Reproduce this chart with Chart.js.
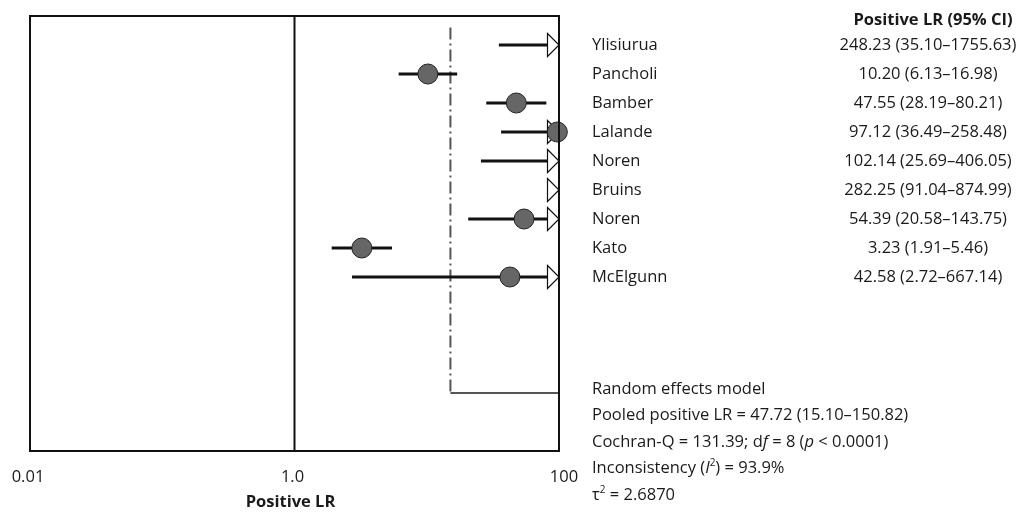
<!DOCTYPE html>
<html lang="en">
<head>
    <meta charset="UTF-8">
    <title>Positive LR forest plot</title>
    <script src="https://cdn.jsdelivr.net/npm/chart.js"></script>
    <style>
        body {
            margin: 0;
            padding: 0;
            background: #ffffff;
        }
        .chart-wrapper {
            position: relative;
            width: 1033px;
            height: 512px;
        }
    </style>
</head>
<body>
    <div class="chart-wrapper">
        <canvas id="forestChart"></canvas>
    </div>
    <script>
        // study data
        var studies = ['Ylisiurua', 'Pancholi', 'Bamber', 'Lalande', 'Noren', 'Bruins', 'Noren', 'Kato', 'McElgunn'];
        var posLR = [248.23, 10.20, 47.55, 97.12, 102.14, 282.25, 54.39, 3.23, 42.58];
        var ciLow = [35.10, 6.13, 28.19, 36.49, 25.69, 91.04, 20.58, 1.91, 2.72];
        var ciHigh = [1755.63, 16.98, 80.21, 258.48, 406.05, 874.99, 143.75, 5.46, 667.14];

        // axis
        var xTickValues = [0.01, 1, 100];
        var xTickLabels = ['0.01', '1.0', '100'];
        var xMin = 0.01, xMax = 100;
        var nullLine = 1;

        // pooled result
        var pooledLR = 47.72, pooledLow = 15.10, pooledHigh = 150.82;
        var pooledRow = 12;
        var statLines = [
            [{ t: 'Random effects model' }],
            [{ t: 'Pooled positive LR = 47.72 (15.10\u2013150.82)' }],
            [{ t: 'Cochran-Q = 131.39; d' }, { t: 'f', i: true }, { t: ' = 8 (' }, { t: 'p', i: true }, { t: ' < 0.0001)' }],
            [{ t: 'Inconsistency (' }, { t: 'I', i: true }, { t: '2', sup: true }, { t: ') = 93.9%' }],
            [{ t: '\u03c4' }, { t: '2', sup: true }, { t: ' = 2.6870' }]
        ];

        var FONT = '"Open Sans", "DejaVu Sans", sans-serif';
        var FS = 16.5;
        var topRow = -1, bottomRow = 14;

        function makeArrow() {
            var c = document.createElement('canvas');
            c.width = 26; c.height = 26;
            var g = c.getContext('2d');
            g.fillStyle = '#ffffff';
            g.strokeStyle = '#111111';
            g.lineWidth = 1.2;
            g.beginPath();
            g.moveTo(1.5, 1.5);
            g.lineTo(13, 13);
            g.lineTo(1.5, 24.5);
            g.closePath();
            g.fill();
            g.stroke();
            return c;
        }

        var datasets = [];

        // point estimates (only those inside the axis range)
        datasets.push({
            type: 'scatter',
            data: posLR.map(function (v, i) { return { x: v, y: i }; }).filter(function (p) { return p.x <= xMax; }),
            pointRadius: 10,
            pointHoverRadius: 10,
            backgroundColor: '#666666',
            borderColor: '#222222',
            borderWidth: 1,
            clip: false,
            order: 0
        });

        // arrows for CIs running past the axis
        var arrow = makeArrow();
        datasets.push({
            type: 'scatter',
            data: ciHigh.map(function (v, i) { return { x: xMax, y: i, hi: v }; }).filter(function (p) { return p.hi > xMax; }),
            pointStyle: arrow,
            pointRadius: 12,
            clip: false,
            order: 1
        });

        // confidence intervals
        studies.forEach(function (s, i) {
            datasets.push({
                type: 'line',
                data: [{ x: ciLow[i], y: i }, { x: Math.min(ciHigh[i], xMax), y: i }],
                borderColor: '#111111',
                borderWidth: 3,
                pointRadius: 0,
                order: 2
            });
        });

        // line of no effect
        datasets.push({
            type: 'line',
            data: [{ x: nullLine, y: topRow }, { x: nullLine, y: bottomRow }],
            borderColor: '#111111',
            borderWidth: 2,
            pointRadius: 0,
            order: 3
        });

        // pooled marker lines
        datasets.push({
            type: 'line',
            data: [{ x: pooledLow, y: topRow + 0.4 }, { x: pooledLow, y: pooledRow }],
            borderColor: '#555555',
            borderWidth: 2,
            borderDash: [12, 4, 2, 4],
            pointRadius: 0,
            order: 3
        });
        datasets.push({
            type: 'line',
            data: [{ x: pooledLow, y: pooledRow }, { x: xMax, y: pooledRow }],
            borderColor: '#555555',
            borderWidth: 2,
            pointRadius: 0,
            order: 3
        });

        function drawRich(ctx, segs, x, y, size) {
            segs.forEach(function (s) {
                var fs = s.sup ? Math.round(size * 0.6) : size;
                ctx.font = (s.i ? 'italic ' : '') + fs + 'px ' + FONT;
                ctx.fillText(s.t, x, s.sup ? y - size * 0.32 : y);
                x += ctx.measureText(s.t).width;
            });
        }

        var textPlugin = {
            id: 'forestText',
            afterDraw: function (chart) {
                var ctx = chart.ctx;
                var area = chart.chartArea;
                var xs = chart.scales.x, ys = chart.scales.y;
                ctx.save();
                // plot frame
                ctx.strokeStyle = '#111111';
                ctx.lineWidth = 2;
                ctx.strokeRect(area.left, area.top, area.right - area.left, area.bottom - area.top);

                ctx.fillStyle = '#1a1a1a';
                ctx.textBaseline = 'middle';

                // column header
                ctx.font = 'bold ' + FS + 'px ' + FONT;
                ctx.textAlign = 'center';
                ctx.fillText('Positive LR (95% CI)', 933, 20);

                // study rows
                studies.forEach(function (s, i) {
                    var y = ys.getPixelForValue(i);
                    ctx.font = FS + 'px ' + FONT;
                    ctx.textAlign = 'left';
                    ctx.fillText(s, 592, y);
                    ctx.textAlign = 'center';
                    ctx.fillText(posLR[i].toFixed(2) + ' (' + ciLow[i].toFixed(2) + '\u2013' + ciHigh[i].toFixed(2) + ')', 928, y);
                });

                // summary
                ctx.textAlign = 'left';
                statLines.forEach(function (line, k) {
                    drawRich(ctx, line, 592, 389 + k * 26.5, FS);
                });

                // x ticks
                ctx.font = FS + 'px ' + FONT;
                ctx.textAlign = 'center';
                xTickValues.forEach(function (v, k) {
                    ctx.fillText(xTickLabels[k], xs.getPixelForValue(v) + (k === 2 ? 5 : -2), 477);
                });
                ctx.font = 'bold ' + FS + 'px ' + FONT;
                ctx.fillText('Positive LR', (area.left + area.right) / 2 - 4, 502);
                ctx.restore();
            }
        };

        var ctx = document.getElementById('forestChart').getContext('2d');
        var chart = new Chart(ctx, {
            type: 'scatter',
            data: { datasets: datasets },
            options: {
                responsive: true,
                maintainAspectRatio: false,
                animation: false,
                layout: { padding: { left: 30, top: 16, right: 474, bottom: 61 } },
                scales: {
                    x: { type: 'logarithmic', min: xMin, max: xMax, display: false },
                    y: { type: 'linear', min: topRow, max: bottomRow, reverse: true, display: false }
                },
                plugins: {
                    legend: { display: false },
                    tooltip: { enabled: false }
                }
            },
            plugins: [textPlugin]
        });
    </script>
</body>
</html>
